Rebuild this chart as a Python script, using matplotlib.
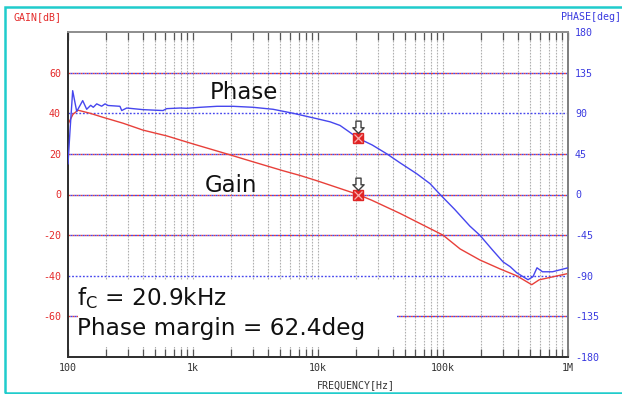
import matplotlib
matplotlib.use("Agg")
import matplotlib.pyplot as plt
from matplotlib.path import Path
from matplotlib.patches import Rectangle
import numpy as np

# ---------------- data ----------------
gain_freq = [100, 109.6, 120.2, 150, 190.5, 275.4, 398, 620, 1000, 1862, 3020,
             5248, 7161, 9772, 20900, 27100, 45290, 100000, 137000, 196800,
             285000, 388000, 513000, 588000, 983000]
gain_db = [34.6, 39.5, 41.5, 40.0, 38.0, 35.1, 31.7, 28.8, 24.9, 20.0, 16.1,
           11.7, 9.4, 6.8, 0.0, -2.9, -9.3, -20.0, -26.8, -32.2,
           -36.6, -40.0, -44.4, -42.0, -39.0]

phase_freq = [100, 103.7, 109.0, 117.4, 131.1, 141.1, 151.9, 159.3, 169.7, 185.9,
              197.8, 209.0, 260.4, 269.0, 294.9, 398, 575, 616, 787, 895, 1143,
              1555, 2089, 3020, 4365, 6310, 9772, 12500, 15000, 17300, 20900,
              27100, 35550, 45290, 61660, 78800, 94800, 124000, 164000, 196800,
              249000, 302000, 345000, 389000, 478600, 525000, 565000, 625000,
              751000, 1000000]
phase_deg = [34, 70, 115, 92, 104, 94.4, 98.8, 96.6, 100.4, 97.8,
             100.4, 98.6, 97.7, 93.0, 95.8, 94, 93, 95.1, 95.8, 95.5, 96.6,
             97.7, 97.7, 96.6, 94.4, 90, 84.0, 80.5, 76.5, 70.5, 62.4,
             54.9, 45, 35.1, 23, 12, 0, -16.5, -35, -45,
             -61.5, -74.6, -80, -86.7, -94.4, -91, -81.2, -85.6,
             -85.6, -81.2]

fc = 20900
fc_gain = 0.0
fc_phase = 62.4

gain_ticks = [60, 40, 20, 0, -20, -40, -60]
gain_labels = ["60", "40", "20", "0", "-20", "-40", "-60"]
phase_ticks = [180, 135, 90, 45, 0, -45, -90, -135, -180]
phase_labels = ["180", "135", "90", "45", "0", "-45", "-90", "-135", "-180"]
x_ticks = [100, 1e3, 1e4, 1e5, 1e6]
x_labels = ["100", "1k", "10k", "100k", "1M"]

RED = "#e8403a"
BLUE = "#4646ee"
TRED = "#e42a2a"
TBLUE = "#3a3ae0"

W, H = 622, 394
fig = plt.figure(figsize=(W / 100, H / 100), dpi=100)
fig.patch.set_facecolor("white")

def fx(px):
    return px / W

def fy(py):
    return 1 - py / H

ax = fig.add_axes([fx(68), fy(357), (568 - 68) / W, (357 - 32) / H])
ax.set_xscale("log")
ax.set_xlim(100, 1e6)
ax.set_ylim(-80, 80)
ax2 = ax.twinx()
ax2.set_ylim(-180, 180)

mono = "DejaVu Sans Mono"
tfs = 7.2

# vertical grid
for dec in [100, 1e3, 1e4, 1e5]:
    for m in range(1, 10):
        v = dec * m
        if v <= 100 or v >= 1e6:
            continue
        ax.axvline(v, color="#b0b0b0", lw=0.8, ls=(0, (1.5, 1.2)), zorder=1)

# horizontal grid lines (red/blue interleaved dotted)
for g in gain_ticks:
    if g in (40, -40):
        ax.axhline(g, color=BLUE, lw=1.0, ls=(0, (1.3, 1.3)), zorder=2)
    else:
        ax.axhline(g, color=RED, lw=1.0, ls=(0, (1.45, 1.45)), zorder=2)
        ax.axhline(g, color=BLUE, lw=1.0, ls=(1.45, (1.45, 1.45)), zorder=2)

# white box behind text
ax.add_patch(Rectangle((0.02, 0.031), 0.638, 0.206, transform=ax.transAxes,
                       facecolor="white", edgecolor="none", zorder=3))

# curves
ax.plot(gain_freq, gain_db, color=RED, lw=1.0, zorder=5)
ax2.plot(phase_freq, phase_deg, color=BLUE, lw=1.0, zorder=5)

# markers at crossover
arrow = Path([(-2.5, 17.0), (2.5, 17.0), (2.5, 10.5), (5.5, 10.5), (0, 5.0),
              (-5.5, 10.5), (-2.5, 10.5), (-2.5, 17.0)], closed=True)
for axx, yv in ((ax, fc_gain), (ax2, fc_phase)):
    axx.plot([fc], [yv], marker="s", ms=7.2, color="#e02424", mec="#e02424", zorder=7)
    axx.plot([fc], [yv], marker="x", ms=5.5, mew=0.9, color="#f7b0b0", zorder=8)
    axx.plot([fc], [yv], marker=arrow, ms=25, mfc="white", mec="#404040",
             mew=1.0, ls="none", zorder=8)

# ticks
ax.set_yticks(gain_ticks)
ax.set_yticklabels(gain_labels)
ax2.set_yticks(phase_ticks)
ax2.set_yticklabels(phase_labels)
ax.set_xticks(x_ticks)
ax.set_xticklabels(x_labels)
ax.xaxis.set_minor_locator(matplotlib.ticker.LogLocator(base=10, subs=np.arange(2, 10)))
ax.xaxis.set_minor_formatter(matplotlib.ticker.NullFormatter())

ax.tick_params(axis="y", length=0, pad=5, labelsize=tfs, labelcolor=TRED)
ax2.tick_params(axis="y", length=0, pad=5, labelsize=tfs, labelcolor=TBLUE)
ax.tick_params(axis="x", which="both", direction="in", length=6, width=0.9,
               color="#555555", top=True, bottom=True, labelsize=tfs,
               labelcolor="#333333", pad=4)
for lab in ax.get_yticklabels() + ax2.get_yticklabels() + ax.get_xticklabels():
    lab.set_family(mono)

for a in (ax, ax2):
    a.spines["left"].set_color("#303030")
    a.spines["bottom"].set_color("#303030")
    a.spines["right"].set_color("#808080")
    a.spines["top"].set_color("#909090")
    for s in a.spines.values():
        s.set_linewidth(1.3)

ax.set_zorder(2)
ax2.set_zorder(3)
ax2.patch.set_visible(False)

# curve labels
fig.text(fx(210), fy(99), "Phase", fontsize=16.5, family="DejaVu Sans",
         color="#111111", ha="left", va="baseline")
fig.text(fx(205), fy(192), "Gain", fontsize=16.5, family="DejaVu Sans",
         color="#111111", ha="left", va="baseline")

plt.rcParams["mathtext.default"] = "regular"
fig.text(fx(77), fy(305), r"f$_{\mathregular{C}}$ = 20.9kHz", fontsize=16.7,
         family="DejaVu Sans", color="#111111", ha="left", va="baseline", zorder=10)
fig.text(fx(77), fy(335), "Phase margin = 62.4deg", fontsize=16.7,
         family="DejaVu Sans", color="#111111", ha="left", va="baseline", zorder=10)

# axis titles
fig.text(fx(13), fy(17), "GAIN[dB]", fontsize=tfs, family=mono, color=TRED,
         ha="left", va="center")
fig.text(fx(561), fy(17), "PHASE[deg]", fontsize=tfs, family=mono, color=TBLUE,
         ha="left", va="center")
fig.text(fx(317), fy(385), "FREQUENCY[Hz]", fontsize=tfs, family=mono,
         color="#333333", ha="left", va="center")

# cyan frame
fig.add_artist(Rectangle((fx(5), fy(393)), fx(640) - fx(5), fy(7) - fy(393),
                         transform=fig.transFigure, fill=False,
                         edgecolor="#20cccc", lw=1.8))

fig.savefig("out.png", dpi=100, facecolor="white")
